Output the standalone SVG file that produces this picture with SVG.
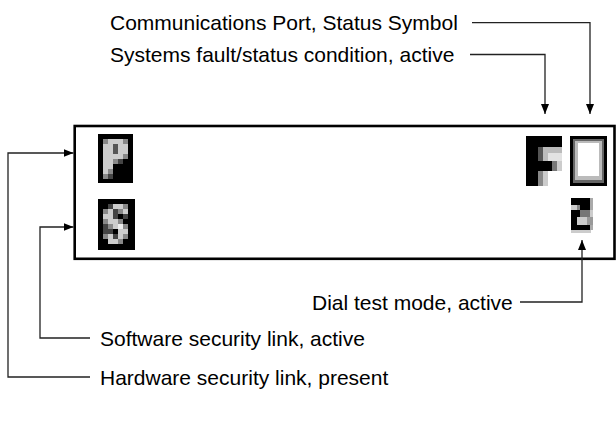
<svg xmlns="http://www.w3.org/2000/svg" width="616" height="421" viewBox="0 0 616 421">
  <style>
    .label { font-family: "Liberation Sans", Arial, sans-serif; font-size: 21px; fill: #000; }
    .wire { fill: none; stroke: #222; stroke-width: 1.3; }
    .panel { fill: #fff; stroke: #000; stroke-width: 2.6; }
  </style>
  <defs>
    <marker id="arrow" markerUnits="userSpaceOnUse" markerWidth="10" markerHeight="8" refX="10" refY="4" orient="auto">
      <path d="M0,0 L10,4 L0,8 z" fill="#000"/>
    </marker>
  </defs>

  <rect width="616" height="421" fill="#fff"/>

  <!-- display panel -->
  <g id="panel">
    <rect class="panel" x="74.7" y="126" width="539.8" height="132.8"/>
  </g>

  <!-- "P" pixel glyph -->
  <g id="glyph-p">
    <rect x="98" y="134" width="35" height="49" fill="#000"/>
    <rect x="103" y="139" width="5" height="5" fill="#888"/>
    <rect x="108" y="139" width="15" height="5" fill="#ccc"/>
    <rect x="123" y="139" width="5" height="5" fill="#888"/>
    <rect x="103" y="144" width="10" height="10" fill="#ccc"/>
    <rect x="113" y="144" width="5" height="10" fill="#555"/>
    <rect x="118" y="144" width="10" height="10" fill="#ccc"/>
    <rect x="103" y="154" width="20" height="5" fill="#ccc"/>
    <rect x="123" y="154" width="5" height="5" fill="#888"/>
    <rect x="103" y="159" width="10" height="5" fill="#ccc"/>
    <rect x="113" y="159" width="5" height="5" fill="#888"/>
    <rect x="118" y="159" width="5" height="5" fill="#444"/>
    <rect x="103" y="164" width="10" height="5" fill="#ccc"/>
    <rect x="103" y="169" width="5" height="5" fill="#ccc"/>
    <rect x="108" y="169" width="5" height="5" fill="#888"/>
    <rect x="103" y="174" width="5" height="5" fill="#888"/>
    <rect x="108" y="174" width="5" height="5" fill="#444"/>
  </g>

  <!-- "S" pixel glyph -->
  <g id="glyph-s">
    <rect x="98" y="199" width="37" height="51" fill="#000"/>
    <rect x="108" y="204" width="5" height="5" fill="#444"/>
    <rect x="113" y="204" width="10" height="5" fill="#ccc"/>
    <rect x="123" y="204" width="5" height="5" fill="#888"/>
    <rect x="103" y="209" width="5" height="5" fill="#888"/>
    <rect x="108" y="209" width="5" height="5" fill="#ccc"/>
    <rect x="113" y="209" width="5" height="5" fill="#444"/>
    <rect x="118" y="209" width="5" height="5" fill="#888"/>
    <rect x="123" y="209" width="5" height="5" fill="#ccc"/>
    <rect x="103" y="214" width="10" height="5" fill="#ccc"/>
    <rect x="113" y="214" width="5" height="5" fill="#444"/>
    <rect x="123" y="214" width="5" height="5" fill="#444"/>
    <rect x="103" y="219" width="5" height="5" fill="#888"/>
    <rect x="108" y="219" width="10" height="5" fill="#ccc"/>
    <rect x="118" y="219" width="5" height="5" fill="#888"/>
    <rect x="103" y="224" width="5" height="5" fill="#444"/>
    <rect x="108" y="224" width="5" height="5" fill="#888"/>
    <rect x="113" y="224" width="5" height="5" fill="#ccc"/>
    <rect x="118" y="224" width="5" height="5" fill="#eee"/>
    <rect x="123" y="224" width="5" height="5" fill="#888"/>
    <rect x="103" y="229" width="10" height="5" fill="#444"/>
    <rect x="118" y="229" width="10" height="5" fill="#ccc"/>
    <rect x="103" y="234" width="5" height="5" fill="#888"/>
    <rect x="108" y="234" width="5" height="5" fill="#ccc"/>
    <rect x="113" y="234" width="5" height="5" fill="#444"/>
    <rect x="118" y="234" width="5" height="5" fill="#ccc"/>
    <rect x="123" y="234" width="5" height="5" fill="#888"/>
    <rect x="108" y="239" width="10" height="5" fill="#ccc"/>
    <rect x="118" y="239" width="5" height="5" fill="#888"/>
  </g>

  <!-- "F" pixel glyph -->
  <g id="glyph-f">
    <rect x="526" y="136" width="36" height="11" fill="#000"/>
    <rect x="526" y="147" width="12" height="39" fill="#000"/>
    <rect x="538" y="147" width="5" height="14" fill="#555"/>
    <rect x="543" y="147" width="19" height="6" fill="#bbb"/>
    <rect x="543" y="153" width="5" height="8" fill="#bbb"/>
    <rect x="548" y="153" width="14" height="8" fill="#e2e2e2"/>
    <rect x="538" y="161" width="14" height="10" fill="#000"/>
    <rect x="552" y="161" width="5" height="10" fill="#777"/>
    <rect x="557" y="161" width="5" height="10" fill="#ccc"/>
    <rect x="538" y="171" width="5" height="15" fill="#888"/>
    <rect x="543" y="171" width="5" height="15" fill="#ccc"/>
  </g>

  <!-- hollow-box pixel glyph -->
  <g id="glyph-box">
    <rect x="570" y="136" width="37" height="50" fill="#000"/>
    <rect x="573" y="139" width="31" height="44" fill="#666"/>
    <rect x="575" y="141" width="27" height="39" fill="#bbb"/>
    <rect x="578" y="143" width="21" height="33" fill="#fff"/>
  </g>

  <!-- "2" pixel glyph -->
  <g id="glyph-2">
    <rect x="571" y="198" width="19" height="7" fill="#000"/>
    <rect x="590" y="198" width="3" height="7" fill="#aaa"/>
    <rect x="571" y="205" width="6" height="5" fill="#ccc"/>
    <rect x="577" y="205" width="3" height="5" fill="#888"/>
    <rect x="580" y="205" width="10" height="5" fill="#000"/>
    <rect x="590" y="205" width="3" height="5" fill="#aaa"/>
    <rect x="571" y="210" width="9" height="7" fill="#000"/>
    <rect x="580" y="210" width="10" height="7" fill="#777"/>
    <rect x="590" y="210" width="3" height="7" fill="#ccc"/>
    <rect x="571" y="217" width="6" height="8" fill="#000"/>
    <rect x="577" y="217" width="10" height="8" fill="#ccc"/>
    <rect x="587" y="217" width="6" height="8" fill="#999"/>
    <rect x="571" y="225" width="19" height="5" fill="#000"/>
    <rect x="590" y="225" width="3" height="5" fill="#aaa"/>
    <rect x="571" y="230" width="20" height="3" fill="#ccc"/>
  </g>

  <!-- leader lines -->
  <g id="connectors">
    <path class="wire" d="M472,22.7 H590 V114" marker-end="url(#arrow)"/>
    <path class="wire" d="M470,54.5 H545 V114" marker-end="url(#arrow)"/>
    <path class="wire" d="M520,302 H582 V240" marker-end="url(#arrow)"/>
    <path class="wire" d="M90,338 H40 V227 H73.5" marker-end="url(#arrow)"/>
    <path class="wire" d="M90,377 H8 V153 H73.5" marker-end="url(#arrow)"/>
  </g>

  <!-- labels -->
  <g id="label-comm"><text class="label" x="110" y="30">Communications Port, Status Symbol</text></g>
  <g id="label-fault"><text class="label" x="110" y="62">Systems fault/status condition, active</text></g>
  <g id="label-dial"><text class="label" x="312" y="309.5">Dial test mode, active</text></g>
  <g id="label-software"><text class="label" x="100" y="345.5">Software security link, active</text></g>
  <g id="label-hardware"><text class="label" x="100" y="384.5">Hardware security link, present</text></g>
</svg>
